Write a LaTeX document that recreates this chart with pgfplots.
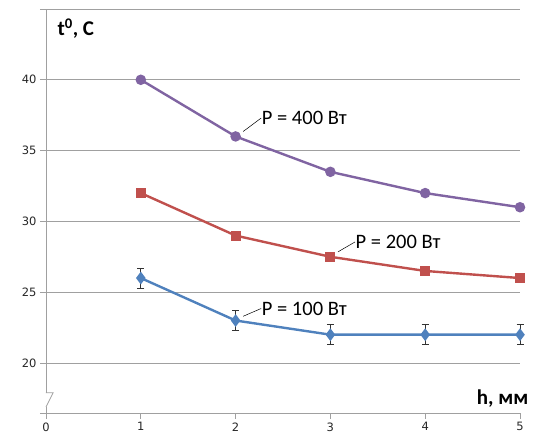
\documentclass[border=0pt]{standalone}
\usepackage{pgfplots}
\pgfplotsset{compat=1.18}
\usepackage{fontspec}
\setmainfont{Carlito}
\newfontfamily\tickfont{DejaVu Sans}
\definecolor{c400}{RGB}{128,100,162}
\definecolor{c200}{RGB}{192,80,77}
\definecolor{c100}{RGB}{79,129,189}
\definecolor{gridc}{RGB}{160,160,160}
\begin{document}
\begin{tikzpicture}[x=1pt,y=1pt]
\useasboundingbox (-46,-22) rectangle (490,413);
\begin{axis}[
  scale only axis, width=474pt, height=404pt,
  xmin=0, xmax=5, ymin=16.47, ymax=45,
  clip=false,
  axis x line*=bottom, axis y line*=left,
  axis line style={gridc, line width=0.8pt},
  xtick={0,1,2,3,4,5},
  ytick={20,25,30,35,40,45},
  yticklabels={20,25,30,35,40,},
  ymajorgrids, grid style={gridc, line width=0.8pt},
  tick style={gridc, line width=0.8pt},
  major tick length=6pt,
  xtick align=outside, ytick align=outside,
  tick label style={font=\tickfont\fontsize{11.5}{13}\selectfont, text=black!85},
  /pgf/number format/assume math mode=true,
  extra y ticks={16.47}, extra y tick labels={},
  extra y tick style={grid=none},
]
\addplot[c400, line width=2.4pt, mark=*, mark size=4pt, mark options={solid}]
  coordinates {(1,40) (2,36) (3,33.5) (4,32) (5,31)};
\addplot[c200, line width=2.4pt, mark=square*, mark size=3.8pt, mark options={solid}]
  coordinates {(1,32) (2,29) (3,27.5) (4,26.5) (5,26)};
\addplot[c100, line width=2.4pt, mark=diamond*, mark size=4.4pt, mark options={solid},
  error bars/.cd, y dir=both, y explicit,
  error bar style={black!80, line width=0.8pt}, error mark options={rotate=90, mark size=3.5pt, black!80, line width=0.8pt}]
  coordinates {(1,26) +- (0,0.7) (2,23) +- (0,0.7) (3,22) +- (0,0.7) (4,22) +- (0,0.7) (5,22) +- (0,0.7)};
% labels
\draw[black, line width=0.5pt] (axis cs:2.08,36.35) -- (axis cs:2.27,37.3);
\node[anchor=west, inner sep=0.5pt, font=\fontsize{20.5}{22}\selectfont] at (axis cs:2.27,37.3) {P = 400 Вт};
\draw[black, line width=0.5pt] (axis cs:3.08,27.85) -- (axis cs:3.26,28.55);
\node[anchor=west, inner sep=0.5pt, font=\fontsize{20.5}{22}\selectfont] at (axis cs:3.26,28.55) {P = 200 Вт};
\draw[black, line width=0.5pt] (axis cs:2.08,23.3) -- (axis cs:2.27,23.85);
\node[anchor=west, inner sep=0.5pt, font=\fontsize{20.5}{22}\selectfont] at (axis cs:2.27,23.85) {P = 100 Вт};
% axis titles
\node[anchor=west, inner sep=0pt, font=\bfseries\fontsize{21}{23}\selectfont] at (axis cs:0.12,43.6) {t\textsuperscript{0}, C};
\node[anchor=south east, inner sep=1pt, font=\bfseries\fontsize{21}{23}\selectfont] at (axis cs:5.1,16.75) {h, мм};
% axis break
\fill[white] (axis cs:-0.03,16.92) rectangle (axis cs:0.03,17.85);
\draw[gridc, line width=0.8pt] (axis cs:0,17.9) -- (axis cs:0.075,17.9) -- (axis cs:0,16.9);
\end{axis}
\end{tikzpicture}
\end{document}
